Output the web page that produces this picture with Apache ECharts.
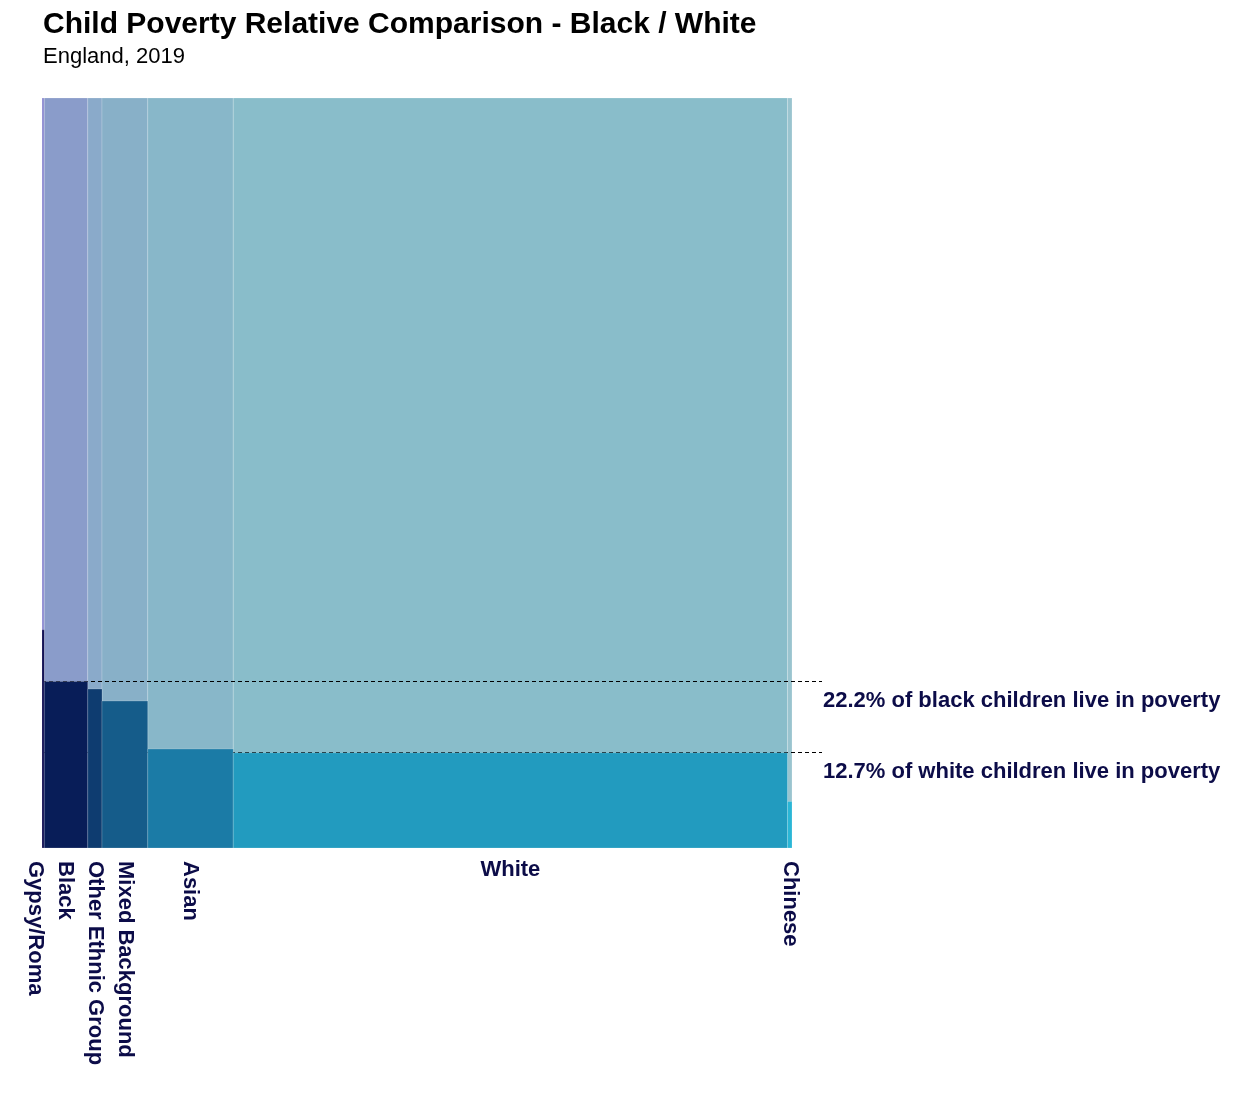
<!DOCTYPE html>
<html>
<head>
<meta charset="utf-8">
<title>Child Poverty Relative Comparison</title>
<script src="https://cdn.jsdelivr.net/npm/echarts@6/dist/echarts.min.js"></script>
<style>
    html, body { margin: 0; padding: 0; background: #ffffff; }
    #chart { width: 1259px; height: 1100px; }
</style>
</head>
<body>
<div id="chart"></div>
<script>
// share of all children (%) and share of each group living in poverty (%)
var categories = ['Gypsy/Roma', 'Black', 'Other Ethnic Group', 'Mixed Background', 'Asian', 'White', 'Chinese'];
var populationShare = [0.3, 5.8, 1.9, 6.1, 11.4, 73.9, 0.6];
var povertyRate = [29.1, 22.2, 21.2, 19.6, 13.2, 12.7, 6.2];
var highlighted = ['Black', 'White'];

var bgColors = ['#8c8ad0', '#8a9cca', '#8aaaca', '#88b0c8', '#88b7c9', '#89bdca', '#9ac4cf'];
var fgColors = ['#0b0a4f', '#081d58', '#0e3c70', '#155c8a', '#1b7ba6', '#229bbf', '#2ab6d6'];
var textColor = '#0c0c48';
var fontName = '"Liberation Sans", Arial, sans-serif';

// build the start / end of every column along the x axis
var barData = [];
var start = 0;
for (var i = 0; i < categories.length; i++) {
    barData.push([start, start + populationShare[i], povertyRate[i]]);
    start += populationShare[i];
}

var chart = echarts.init(document.getElementById('chart'));

function rectItem(params, api, full) {
    var x0 = api.value(0), x1 = api.value(1);
    var top = full ? 100 : api.value(2);
    var p0 = api.coord([x0, top]);
    var p1 = api.coord([x1, 0]);
    var colors = full ? bgColors : fgColors;
    return {
        type: 'rect',
        shape: {x: p0[0], y: p0[1], width: p1[0] - p0[0], height: p1[1] - p0[1]},
        style: {fill: colors[params.dataIndex], stroke: 'rgba(255,255,255,0.18)', lineWidth: 1}
    };
}

// centre of each column, pushed apart so vertical labels don't collide
function labelCentres(api) {
    var xs = barData.map(function (d) {
        return (api.coord([d[0], 0])[0] + api.coord([d[1], 0])[0]) / 2;
    });
    var minGap = 30;
    for (var k = xs.length - 2; k >= 0; k--) {
        if (xs[k + 1] - xs[k] < minGap) {
            xs[k] = xs[k + 1] - minGap;
        }
    }
    return xs;
}

var option = {
    backgroundColor: '#ffffff',
    animation: false,
    title: [
        {
            text: 'Child Poverty Relative Comparison - Black / White',
            left: 38, top: 5,
            textStyle: {fontFamily: fontName, fontSize: 30, fontWeight: 'bold', color: '#000000'}
        },
        {
            text: 'England, 2019',
            left: 38, top: 41,
            textStyle: {fontFamily: fontName, fontSize: 22, fontWeight: 'normal', color: '#000000'}
        }
    ],
    grid: {left: 42, top: 98, width: 750, height: 750},
    xAxis: {type: 'value', min: 0, max: 100, show: false},
    yAxis: {type: 'value', min: 0, max: 100, show: false},
    series: [
        {
            // full height backdrop for every group
            type: 'custom',
            z: 1,
            encode: {x: [0, 1], y: 2},
            renderItem: function (params, api) {
                return rectItem(params, api, true);
            },
            data: barData
        },
        {
            // dashed reference lines + text for the highlighted groups
            type: 'custom',
            z: 2,
            clip: false,
            encode: {x: 0, y: 1},
            renderItem: function (params, api) {
                var rate = api.value(1);
                var name = highlighted[params.dataIndex];
                var cs = params.coordSys;
                var y = Math.floor(api.coord([0, rate])[1]) + 0.5;
                var xEnd = cs.x + cs.width + 30;
                return {
                    type: 'group',
                    children: [
                        {
                            type: 'line',
                            shape: {x1: cs.x, y1: y, x2: xEnd, y2: y},
                            style: {stroke: '#000000', lineWidth: 1, lineDash: [4, 3]}
                        },
                        {
                            type: 'text',
                            x: xEnd + 1,
                            y: y + 19,
                            style: {
                                text: rate.toFixed(1) + '% of ' + name.toLowerCase() + ' children live in poverty',
                                fill: textColor,
                                font: 'bold 22px ' + fontName,
                                align: 'left',
                                verticalAlign: 'middle'
                            }
                        }
                    ]
                };
            },
            data: highlighted.map(function (n) {
                var idx = categories.indexOf(n);
                return [barData[idx][0], povertyRate[idx]];
            })
        },
        {
            // share in poverty
            type: 'custom',
            z: 3,
            encode: {x: [0, 1], y: 2},
            renderItem: function (params, api) {
                return rectItem(params, api, false);
            },
            data: barData
        },
        {
            // category labels under the columns
            type: 'custom',
            z: 4,
            clip: false,
            encode: {x: [0, 1], y: 2},
            renderItem: function (params, api) {
                var xs = labelCentres(api);
                var i = params.dataIndex;
                var w = api.coord([barData[i][1], 0])[0] - api.coord([barData[i][0], 0])[0];
                var base = api.coord([0, 0])[1];
                var text = categories[i];
                var horizontal = w > 200;
                return {
                    type: 'text',
                    x: xs[i],
                    y: horizontal ? base + 22 : base + 13,
                    rotation: horizontal ? 0 : -Math.PI / 2,
                    style: {
                        text: text,
                        fill: textColor,
                        font: 'bold 22px ' + fontName,
                        align: horizontal ? 'center' : 'left',
                        verticalAlign: 'middle'
                    }
                };
            },
            data: barData
        }
    ]
};

chart.setOption(option);
</script>
</body>
</html>
